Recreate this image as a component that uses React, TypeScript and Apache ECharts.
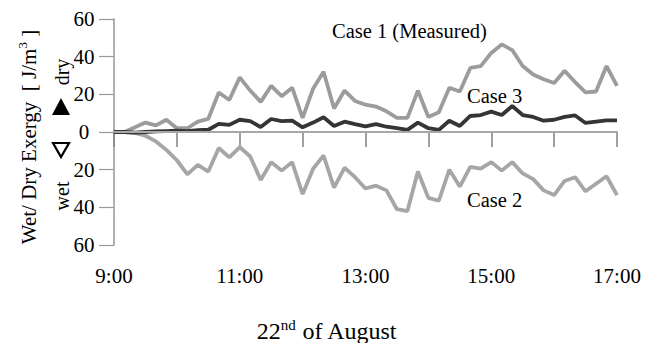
import React, { useEffect, useRef } from "react";
import * as echarts from "echarts";

const times = [
  "9:00", "9:10", "9:20", "9:30", "9:40", "9:50",
  "10:00", "10:10", "10:20", "10:30", "10:40", "10:50",
  "11:00", "11:10", "11:20", "11:30", "11:40", "11:50",
  "12:00", "12:10", "12:20", "12:30", "12:40", "12:50",
  "13:00", "13:10", "13:20", "13:30", "13:40", "13:50",
  "14:00", "14:10", "14:20", "14:30", "14:40", "14:50",
  "15:00", "15:10", "15:20", "15:30", "15:40", "15:50",
  "16:00", "16:10", "16:20", "16:30", "16:40", "16:50",
  "17:00",
];

// Case 1 (Measured) – dry side (positive)
const case1 = [
  0, 0, 2.5, 5, 3.5, 6.5,
  2, 2, 5.5, 7, 21, 17,
  29, 22, 16, 24.5, 19, 23.5,
  7.5, 23, 32, 12.5, 22, 16.5,
  14.5, 13.5, 11, 7.5, 7.5, 22,
  8, 10.5, 23.5, 21.5, 34, 35,
  42, 46.5, 43.5, 35, 30.5, 28,
  26, 32.5, 26.5, 21, 21.5, 35,
  24.5,
];

// Case 2 – wet side (plotted below zero)
const case2 = [
  0, 0, -0.5, -2, -5, -9.5,
  -15, -22.5, -17.5, -21, -8.5, -13.5,
  -8, -13, -25.5, -16, -20.5, -16,
  -33, -19.5, -12.5, -29.5, -19, -24,
  -30, -28.5, -31, -41, -42, -21,
  -35, -36.5, -20, -29, -18.5, -19.5,
  -16, -20.5, -16, -22, -25, -31,
  -33.5, -26, -24, -31.5, -27.5, -23.5,
  -33.5,
];

// Case 3
const case3 = [
  0, 0, -0.3, 0, 0.3, 0.5,
  0.7, 0.5, 1, 1.2, 4.3, 3.8,
  6.5, 5.8, 2.6, 6.9, 5.8, 6,
  2.5, 5, 7.8, 3.2, 5.5, 4.2,
  3, 4.2, 2.8, 2, 1.1, 5,
  2, 1.1, 6, 3.2, 8.5, 9,
  10.8, 9, 13.8, 9, 8, 6,
  6.5, 8, 8.8, 4.8, 5.5, 6.2,
  6.2,
];

const yTicks = { min: -60, max: 60, interval: 20 };

const FONT = '"Liberation Serif", "Times New Roman", serif';

export default function App() {
  const ref = useRef<HTMLDivElement>(null);

  useEffect(() => {
    if (!ref.current) return;
    const chart = echarts.init(ref.current, undefined, { renderer: "svg" });
    chart.setOption({
      animation: false,
      backgroundColor: "#ffffff",
      grid: { left: 114, right: 29, top: 19, height: 226 },
      xAxis: {
        type: "category",
        data: times,
        boundaryGap: false,
        axisLine: { show: true, lineStyle: { color: "#a8a8a8", width: 2 } },
        axisTick: {
          show: true,
          interval: 5,
          length: 15,
          lineStyle: { color: "#808080", width: 1.5 },
        },
        axisLabel: {
          interval: 11,
          margin: 20,
          color: "#000",
          fontFamily: FONT,
          fontSize: 21,
        },
        splitLine: { show: false },
      },
      yAxis: {
        type: "value",
        min: yTicks.min,
        max: yTicks.max,
        interval: yTicks.interval,
        axisLine: { show: true, lineStyle: { color: "#999", width: 1.5 } },
        axisTick: { show: true, length: 15, lineStyle: { color: "#999", width: 1.2 } },
        axisLabel: {
          margin: 30,
          align: "center",
          color: "#000",
          fontFamily: FONT,
          fontSize: 21,
          formatter: (v: number) => String(Math.abs(v)),
        },
        splitLine: { show: false },
      },
      series: [
        {
          name: "Case 1 (Measured)",
          type: "line",
          data: case1,
          showSymbol: false,
          symbol: "none",
          lineStyle: { color: "#9c9c9c", width: 3.8 },
          itemStyle: { color: "#9c9c9c" },
          markLine: {
            silent: true,
            symbol: "none",
            label: { show: false },
            lineStyle: { color: "#a8a8a8", width: 2, type: "solid" },
            data: [{ yAxis: 0 }],
          },
          z: 2,
        },
        {
          name: "Case 2",
          type: "line",
          data: case2,
          showSymbol: false,
          symbol: "none",
          lineStyle: { color: "#a6a6a6", width: 3.8 },
          itemStyle: { color: "#a6a6a6" },
          z: 3,
        },
        {
          name: "Case 3",
          type: "line",
          data: case3,
          showSymbol: false,
          symbol: "none",
          lineStyle: { color: "#353535", width: 3.8 },
          itemStyle: { color: "#353535" },
          z: 4,
        },
      ],
      graphic: [
        {
          type: "text",
          x: 332,
          y: 31,
          style: {
            text: "Case 1 (Measured)",
            font: `20.5px ${FONT}`,
            fill: "#000",
            verticalAlign: "middle",
          },
          z: 10,
        },
        {
          type: "text",
          x: 467,
          y: 96,
          style: {
            text: "Case 3",
            font: `20.5px ${FONT}`,
            fill: "#000",
            verticalAlign: "middle",
          },
          z: 10,
        },
        {
          type: "text",
          x: 467,
          y: 200,
          style: {
            text: "Case 2",
            font: `20.5px ${FONT}`,
            fill: "#000",
            verticalAlign: "middle",
          },
          z: 10,
        },
        {
          type: "text",
          x: 327,
          y: 331,
          style: {
            text: "{b|22}{s|nd}{b| of August}",
            align: "center",
            verticalAlign: "middle",
            fill: "#000",
            rich: {
              b: { fontFamily: FONT, fontSize: 24, lineHeight: 28, fill: "#000" },
              s: { fontFamily: FONT, fontSize: 15, lineHeight: 16, verticalAlign: "top", fill: "#000" },
            },
          },
        },
        {
          type: "text",
          x: 29,
          y: 137,
          rotation: Math.PI / 2,
          style: {
            text: "{b|Wet/ Dry Exergy  [ J/m}{s|3}{b| ]}",
            align: "center",
            verticalAlign: "middle",
            fill: "#000",
            rich: {
              b: { fontFamily: FONT, fontSize: 21, lineHeight: 26, fill: "#000" },
              s: { fontFamily: FONT, fontSize: 13, lineHeight: 14, verticalAlign: "top", fill: "#000" },
            },
          },
        },
        {
          type: "text",
          x: 62,
          y: 196,
          rotation: Math.PI / 2,
          style: {
            text: "wet",
            font: `20px ${FONT}`,
            fill: "#000",
            align: "center",
            verticalAlign: "middle",
          },
        },
        {
          type: "text",
          x: 62,
          y: 72,
          rotation: Math.PI / 2,
          style: {
            text: "dry",
            font: `20px ${FONT}`,
            fill: "#000",
            align: "center",
            verticalAlign: "middle",
          },
        },
        {
          type: "polygon",
          shape: { points: [[61, 98], [70, 115], [52, 115]] },
          style: { fill: "#000" },
        },
        {
          type: "polygon",
          shape: { points: [[53, 143], [69, 143], [61, 157]] },
          style: { fill: "#fff", stroke: "#000", lineWidth: 2.2 },
        },
      ],
    });
    return () => chart.dispose();
  }, []);

  return (
    <div
      ref={ref}
      style={{ position: "absolute", left: 0, top: 0, width: 646, height: 343 }}
    />
  );
}
